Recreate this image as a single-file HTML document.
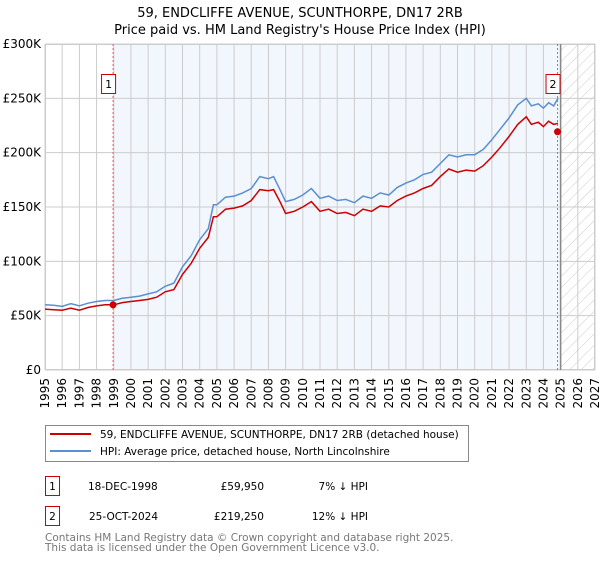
<!DOCTYPE html>
<html><head><meta charset="utf-8"><style>
body{margin:0;background:#fff;font-family:"DejaVu Sans","Liberation Sans",sans-serif;}
svg text{font-family:"DejaVu Sans","Liberation Sans",sans-serif;}
</style></head><body>
<svg id="chart" width="600" height="560" xmlns="http://www.w3.org/2000/svg">
<defs><pattern id="hatch" patternUnits="userSpaceOnUse" width="8" height="8" patternTransform="rotate(45)"><line x1="0" y1="0" x2="0" y2="8" stroke="#ccc" stroke-width="1"/></pattern></defs>
<text x="300" y="17" text-anchor="middle" font-size="13">59, ENDCLIFFE AVENUE, SCUNTHORPE, DN17 2RB</text>
<text x="300" y="34" text-anchor="middle" font-size="13">Price paid vs. HM Land Registry's House Price Index (HPI)</text>
<g id="plot"></g>
<g>
<rect x="45.5" y="425.5" width="423" height="36" fill="#fff" stroke="#888"/>
<line x1="50" y1="434" x2="91" y2="434" stroke="#cc0000" stroke-width="2"/>
<text x="100" y="438" font-size="10.5">59, ENDCLIFFE AVENUE, SCUNTHORPE, DN17 2RB (detached house)</text>
<line x1="50" y1="451" x2="91" y2="451" stroke="#5b8fd0" stroke-width="2"/>
<text x="100" y="455" font-size="10.5">HPI: Average price, detached house, North Lincolnshire</text>
</g>
<g font-size="10.5">
<rect x="45.5" y="476.5" width="14" height="19" fill="none" stroke="#cc0000"/>
<text x="52.5" y="490" text-anchor="middle">1</text>
<text x="88" y="490">18-DEC-1998</text>
<text x="264" y="490" text-anchor="end">£59,950</text>
<text x="368" y="490" text-anchor="end">7% ↓ HPI</text>
<rect x="45.5" y="506.5" width="14" height="19" fill="none" stroke="#cc0000"/>
<text x="52.5" y="520" text-anchor="middle">2</text>
<text x="89" y="520">25-OCT-2024</text>
<text x="264" y="520" text-anchor="end">£219,250</text>
<text x="368" y="520" text-anchor="end">12% ↓ HPI</text>
</g>
<g font-size="10.5" fill="#777">
<text x="45" y="541">Contains HM Land Registry data © Crown copyright and database right 2025.</text>
<text x="45" y="551">This data is licensed under the Open Government Licence v3.0.</text>
</g>
</svg>
<script>
const hpiYears=[1995,1995.5,1996,1996.5,1997,1997.5,1998,1998.5,1999,1999.5,2000,2000.5,2001,2001.5,2002,2002.5,2003,2003.5,2004,2004.5,2004.8,2005,2005.5,2006,2006.5,2007,2007.5,2008,2008.3,2008.7,2009,2009.5,2010,2010.5,2011,2011.5,2012,2012.5,2013,2013.5,2014,2014.5,2015,2015.5,2016,2016.5,2017,2017.5,2018,2018.5,2019,2019.5,2020,2020.5,2021,2021.5,2022,2022.5,2023,2023.3,2023.7,2024,2024.3,2024.6,2024.85];
const hpiValues=[60,59.5,58.5,61,59,61.5,63,64,64,66,67,68,70,72,77,80,95,105,120,130,152,152,159,160,163,167,178,176,178,165,155,157,161,167,158,160,156,157,154,160,158,163,161,168,172,175,180,182,190,198,196,198,198,203,212,222,232,244,250,243,245,241,246,243,250];
const priceValues=[56,55.5,55,57,55,57.5,59,60,60,62,63,64,65,67,72,74,88,98,112,122,141,141,148,149,151,156,166,165,166,154,144,146,150,155,146,148,144,145,142,148,146,151,150,156,160,163,167,170,178,185,182,184,183,188,196,205,215,226,233,226,228,224,229,226,227];
const sales=[{n:"1",year:1998.96,value:59.95},{n:"2",year:2024.82,value:219.25}];
const yTicks=[0,50,100,150,200,250,300];
const yTickLabels=["£0","£50K","£100K","£150K","£200K","£250K","£300K"];
const xTicks=[1995,1996,1997,1998,1999,2000,2001,2002,2003,2004,2005,2006,2007,2008,2009,2010,2011,2012,2013,2014,2015,2016,2017,2018,2019,2020,2021,2022,2023,2024,2025,2026,2027];

const X0=45,X1=595,Y0=370,Y1=44;
const xs=y=>X0+(y-1995)/(2027-1995)*(X1-X0);
const ys=v=>Y0-v/300*(Y0-Y1);
const NS="http://www.w3.org/2000/svg";
const g=document.getElementById('plot');
function mk(t,a,p){const e=document.createElementNS(NS,t);for(const k in a)e.setAttribute(k,a[k]);(p||g).appendChild(e);return e;}

let r=mk('rect',{x:xs(sales[0].year),y:Y1,width:xs(2025)-xs(sales[0].year),height:Y0-Y1,fill:'#f2f6fd'});


r=mk('rect',{x:xs(2025),y:Y1,width:X1-xs(2025),height:Y0-Y1,fill:'url(#hatch)'});



xTicks.forEach(t=>{
 const l=mk('line',{x1:xs(t),x2:xs(t),y1:Y1,y2:Y0,stroke:'#ccc','stroke-width':1});
 
 
 const tx=mk('text',{x:0,y:0,'font-size':12,'text-anchor':'end',transform:`translate(${xs(t)+4},${Y0+8}) rotate(-90)`});
 tx.textContent=t;
 
 
});
yTicks.forEach((t,i)=>{
 const l=mk('line',{x1:X0,x2:X1,y1:ys(t),y2:ys(t),stroke:'#ccc','stroke-width':1});
 
 
 const tx=mk('text',{x:X0-4,y:ys(t)+4,'font-size':12,'text-anchor':'end'});
 tx.textContent=yTickLabels[i];
 
 
});
r=mk('rect',{x:X0+0.5,y:Y1+0.5,width:X1-X0-1,height:Y0-Y1-1,fill:'none',stroke:'#ccc'});


let dl=mk('line',{x1:xs(2025),x2:xs(2025),y1:Y1,y2:Y0,stroke:'#888','stroke-width':1.5});



function path(vals){return hpiYears.map((y,i)=>(i?'L':'M')+xs(y).toFixed(1)+','+ys(vals[i]).toFixed(1)).join('');}
let p=mk('path',{d:path(hpiValues),fill:'none',stroke:'#5b8fd0','stroke-width':1.5});


p=mk('path',{d:path(priceValues),fill:'none',stroke:'#cc0000','stroke-width':1.5});



sales.forEach(s=>{
 const l=mk('line',{x1:xs(s.year),x2:xs(s.year),y1:Y1,y2:Y0,stroke:'#e06060','stroke-width':1,'stroke-dasharray':'2,2'});
 
 
 const c=mk('circle',{cx:xs(s.year),cy:ys(s.value),r:3.5,fill:'#cc0000'});
 
 
 const b=mk('rect',{x:xs(s.year)-11.5,y:74.5,width:14,height:19,fill:'#fff',stroke:'#cc0000'});
 
 
 const t=mk('text',{x:xs(s.year)-4.5,y:88,'font-size':11,'text-anchor':'middle'});
 t.textContent=s.n;
 
 
});
</script>
</body></html>
